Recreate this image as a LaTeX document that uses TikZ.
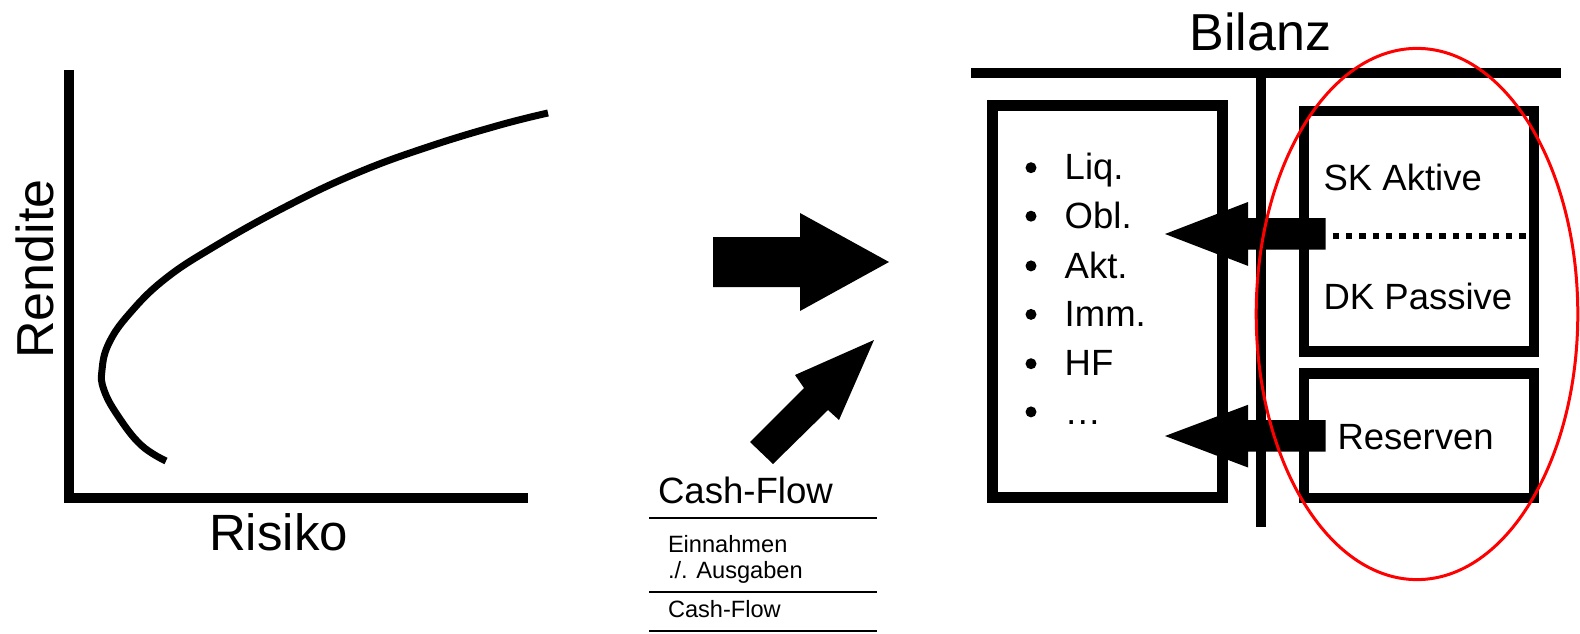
\documentclass[tikz,border=0pt]{standalone}
\usepackage{fontspec}
\setmainfont{Liberation Sans}
\begin{document}
\begin{tikzpicture}[x=1pt,y=-1pt,
  lbl/.style={inner sep=0pt,outer sep=0pt,anchor=base west},
  fs/.style={font=\fontsize{#1}{#1}\selectfont},
  heavy/.style={line width=10pt},
  boxline/.style={draw=black,line width=10.5pt,fill=none},
  blockarrow/.style={fill=black,draw=none},
  rule/.style={line width=1.6pt},
  bul/.style={circle,fill=black,inner sep=0pt,outer sep=0pt,minimum size=11pt}]
\useasboundingbox (0,0) rectangle (1580,634);

% --- risk / return chart ---
\coordinate (ytop) at (68.7,70);
\coordinate (origin) at (68.7,498);
\coordinate (xend) at (528,498);
\draw[heavy,line join=miter] (ytop) -- (origin) -- (xend);
\draw[line width=7pt] plot[smooth,tension=0.7] coordinates {
  (166,461) (141,445) (118,416) (104,390) (102,370) (109,343)
  (130,313) (165,279) (214,246.7) (285.7,206.7) (357,173) (428.6,146.7)
  (500,125) (548,113)};
\node[inner sep=0pt,anchor=base,rotate=90,fs=52] (rendite) at (53.6,269) {Rendite};
\node[inner sep=0pt,anchor=base,fs=51] (risiko) at (278.6,550) {Risiko};

% --- block arrows in the middle ---
\fill[blockarrow] (713,237) -- (800,237) -- (800,213) -- (889,262)
  -- (800,311) -- (800,287) -- (713,287) -- cycle;
\fill[blockarrow] (750,442) -- (804,388) -- (795,375) -- (874,340)
  -- (839,420) -- (828,410) -- (773,464) -- cycle;

% --- cash-flow statement ---
\node[lbl,fs=36.6] (cfhead) at (658,503) {Cash-Flow};
\coordinate (r1a) at (649,518); \coordinate (r1b) at (877,518);
\coordinate (r2a) at (649,592); \coordinate (r2b) at (877,592);
\coordinate (r3a) at (649,631); \coordinate (r3b) at (877,631);
\draw[rule] (r1a) -- (r1b);
\node[lbl,fs=23.6] (ein) at (668,552) {Einnahmen};
\node[lbl,fs=23.6] (aus) at (668,578) {./. Ausgaben};
\draw[rule] (r2a) -- (r2b);
\node[lbl,fs=23.6] (cfsum) at (668,617) {Cash-Flow};
\draw[rule] (r3a) -- (r3b);

% --- balance sheet ---
\node[inner sep=0pt,anchor=base,fs=52] (bilanz) at (1260.5,50.5) {Bilanz};
\coordinate (hl) at (971,72.7); \coordinate (hr) at (1561,72.7);
\coordinate (vt) at (1260.5,72.7); \coordinate (vb) at (1260.5,527.3);
\draw[heavy] (hl) -- (hr);
\draw[heavy] (vt) -- (vb);

\draw[boxline,line width=11pt] (992.5,105) rectangle (1222.5,497.5);
\draw[boxline] (1304,111) rectangle (1534,351.7);
\draw[boxline] (1304,373.3) rectangle (1534,498);

% asset list
\foreach \y/\t [count=\i] in {179.8/Liq., 228.3/Obl., 278/Akt., 326.5/Imm., 375.8/HF, 424/…}{
  \node[bul] (b\i) at (1031,\y-12.1) {};
  \node[lbl,fs=36.5] (a\i) at (1064.7,\y) {\t};
}

% liabilities
\node[lbl,fs=36.5] (sk) at (1323.6,190) {SK Aktive};
\node[lbl,fs=36.5] (dk) at (1323.6,309) {DK Passive};
\node[lbl,fs=36.5] (res) at (1337.5,449.7) {Reserven};
\coordinate (dl) at (1332.7,236.3); \coordinate (dr) at (1526,236.3);
\draw[line width=6pt,dash pattern=on 6.3pt off 7.03pt] (dl) -- (dr);

% arrows from liabilities into assets
\fill[blockarrow] (1165,234) -- (1248,202) -- (1248,218.2) -- (1325.7,218.2)
  -- (1325.7,249.7) -- (1248,249.7) -- (1248,265.9) -- cycle;
\fill[blockarrow] (1165,436) -- (1248,404.8) -- (1248,420.2) -- (1325.7,420.2)
  -- (1325.7,451.7) -- (1248,451.7) -- (1248,467.5) -- cycle;

% highlight of the liability side
\draw[red,line width=3pt] (1417,314) ellipse [x radius=160.8pt,y radius=265.6pt];
\end{tikzpicture}
\end{document}
